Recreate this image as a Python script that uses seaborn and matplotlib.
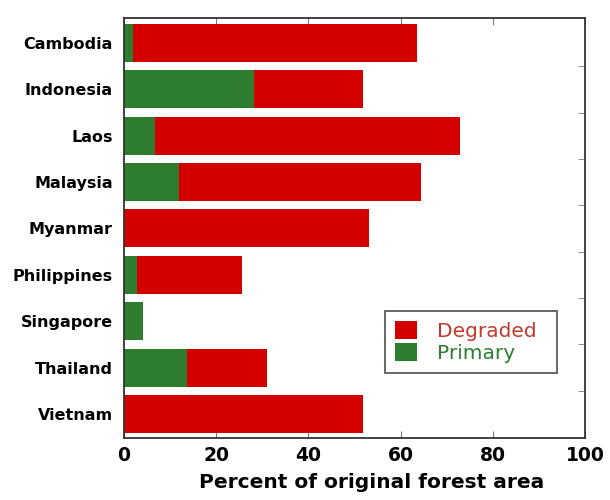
import matplotlib
matplotlib.use("Agg")
import matplotlib.pyplot as plt
import seaborn as sns
import pandas as pd
import numpy as np
from matplotlib.patches import Patch

countries = ["Cambodia", "Indonesia", "Laos", "Malaysia", "Myanmar",
             "Philippines", "Singapore", "Thailand", "Vietnam"]
primary = [2.0, 28.3, 6.7, 11.9, 0.0, 2.9, 4.2, 13.8, 0.0]
degraded = [61.6, 23.5, 66.1, 52.6, 53.2, 22.8, 0.0, 17.2, 51.8]

df = pd.DataFrame({"country": countries, "primary": primary, "degraded": degraded})
df["total"] = df["primary"] + df["degraded"]

sns.set_style("white")
plt.rcParams['font.family'] = ['DejaVu Sans']
plt.rcParams['text.color'] = 'black'
plt.rcParams['xtick.color'] = 'black'
plt.rcParams['ytick.color'] = 'black'
plt.rcParams['axes.labelcolor'] = 'black'

RED = "#d40000"
GREEN = "#2e7d2e"

fig, ax = plt.subplots(figsize=(6.1, 5.0), dpi=100)
fig.subplots_adjust(left=0.203, right=0.959, top=0.964, bottom=0.124)

sns.barplot(data=df, y="country", x="total", orient="h", color=RED,
            width=0.82, saturation=1, ax=ax, linewidth=0)
sns.barplot(data=df, y="country", x="primary", orient="h", color=GREEN,
            width=0.82, saturation=1, ax=ax, linewidth=0)

ax.set_xlim(0, 100)
ax.set_ylim(8.52, -0.54)
ax.set_xticks([0, 20, 40, 60, 80, 100])
ax.set_xticklabels(["0", "20", "40", "60", "80", "100"], fontsize=13.5, fontweight="bold")
ax.set_yticks(range(len(countries)))
ax.set_yticklabels(countries, fontsize=11.5, fontweight="bold")
ax.set_ylabel("")
ax.set_xlabel("Percent of original forest area", fontsize=14.5, fontweight="bold")
ax.xaxis.set_label_coords(0.537, -0.083)

ax.tick_params(axis="x", direction="in", length=5, top=True, bottom=True,
               color="#777777", labelcolor="black", pad=6)
ax.tick_params(axis="y", left=False, length=0, pad=8, labelcolor="black")
ax.yaxis.set_minor_locator(matplotlib.ticker.FixedLocator(np.arange(0.5, 8, 1.0)))
ax.tick_params(axis="y", which="minor", right=True, left=False, direction="in",
               length=5, color="#777777")

for s in ax.spines.values():
    s.set_visible(True)
    s.set_color("#333333")
    s.set_linewidth(1.3)

handles = [Patch(facecolor=RED, edgecolor="none"), Patch(facecolor=GREEN, edgecolor="none")]
leg = ax.legend(handles, ["Degraded", "Primary"], loc="lower left",
                bbox_to_anchor=(0.566, 0.155, 0.373, 0.16), mode="expand",
                fontsize=14.5, frameon=True, fancybox=False, edgecolor="#333333",
                handlelength=1.1, handleheight=1.0, handletextpad=1.0,
                borderpad=0.5, labelspacing=0.1, borderaxespad=0)
leg.get_frame().set_linewidth(1.3)
for t, c in zip(leg.get_texts(), ["#c0392b", GREEN]):
    t.set_color(c)

fig.savefig("out.png", dpi=100)
